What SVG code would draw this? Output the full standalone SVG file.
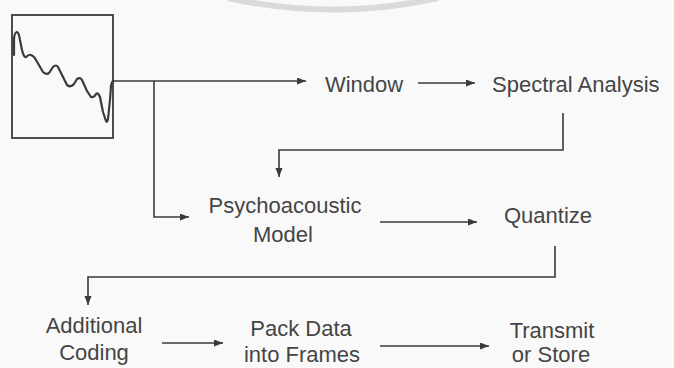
<svg xmlns="http://www.w3.org/2000/svg" width="674" height="368" viewBox="0 0 674 368">
  <style>
    .t { font-family: "Liberation Sans", Arial, sans-serif; font-size: 22px; fill: #454545; }
    .c { text-anchor: middle; }
    .ln { fill: none; stroke: #3a3a3a; stroke-width: 1.6; }
    .wave { fill: none; stroke: #3a3a3a; stroke-width: 2.2; stroke-linejoin: round; stroke-linecap: round; }
    .ar { marker-end: url(#ah); }
  </style>
  <defs>
    <marker id="ah" markerUnits="userSpaceOnUse" markerWidth="10" markerHeight="8" refX="9" refY="3.5" orient="auto">
      <path d="M0,0 L9,3.5 L0,7 z" fill="#3a3a3a"/>
    </marker>
  </defs>
  <rect width="674" height="368" fill="#f9f9f9"/>
  <path d="M228,-2 A488,488 0 0 0 438,-2" fill="none" stroke="#dadada" stroke-width="6"/>

  <g id="signal">
    <rect x="12" y="15" width="101" height="123" fill="none" stroke="#3a3a3a" stroke-width="1.8"/>
    <path class="wave" d="M14,55 L14,38 Q15,32 17,32 Q19,33 20,40 L22,50 Q24,58 26,57 Q29,54 31,55 Q34,56 36,60 L43,72 Q46,75 49,73 L53,67 Q56,64 58,67 L61,73 L67,85 Q71,88 74,84 L77,79 Q80,77 82,80 L87,91 L91,97 Q94,98 96,94 Q98,92 100,97 L103,112 L106,121 Q107,123 108,119 L110,100 L111,86 Q112,81 113,81"/>
  </g>
  <g id="window"><text class="t c" x="364" y="92">Window</text></g>
  <g id="spectral"><text class="t" x="492" y="92">Spectral Analysis</text></g>
  <g id="psycho">
    <text class="t c" x="285" y="213">Psychoacoustic</text>
    <text class="t c" x="283" y="242">Model</text>
  </g>
  <g id="quantize"><text class="t c" x="548" y="223">Quantize</text></g>
  <g id="additional">
    <text class="t c" x="94" y="333">Additional</text>
    <text class="t c" x="94" y="360">Coding</text>
  </g>
  <g id="pack">
    <text class="t c" x="301" y="336">Pack Data</text>
    <text class="t c" x="302" y="362">into Frames</text>
  </g>
  <g id="transmit">
    <text class="t c" x="552" y="338">Transmit</text>
    <text class="t c" x="551" y="362">or Store</text>
  </g>

  <g id="connectors">
    <path class="ln ar" d="M113,81 H306"/>
    <path class="ln ar" d="M154,81 V217 H189"/>
    <path class="ln ar" d="M418,83 H475"/>
    <path class="ln ar" d="M563,113 V150 H279 V177"/>
    <path class="ln ar" d="M380,222 H477"/>
    <path class="ln ar" d="M555,246 V277 H88 V305"/>
    <path class="ln ar" d="M162,343 H223"/>
    <path class="ln ar" d="M380,346 H489"/>
  </g>
</svg>
